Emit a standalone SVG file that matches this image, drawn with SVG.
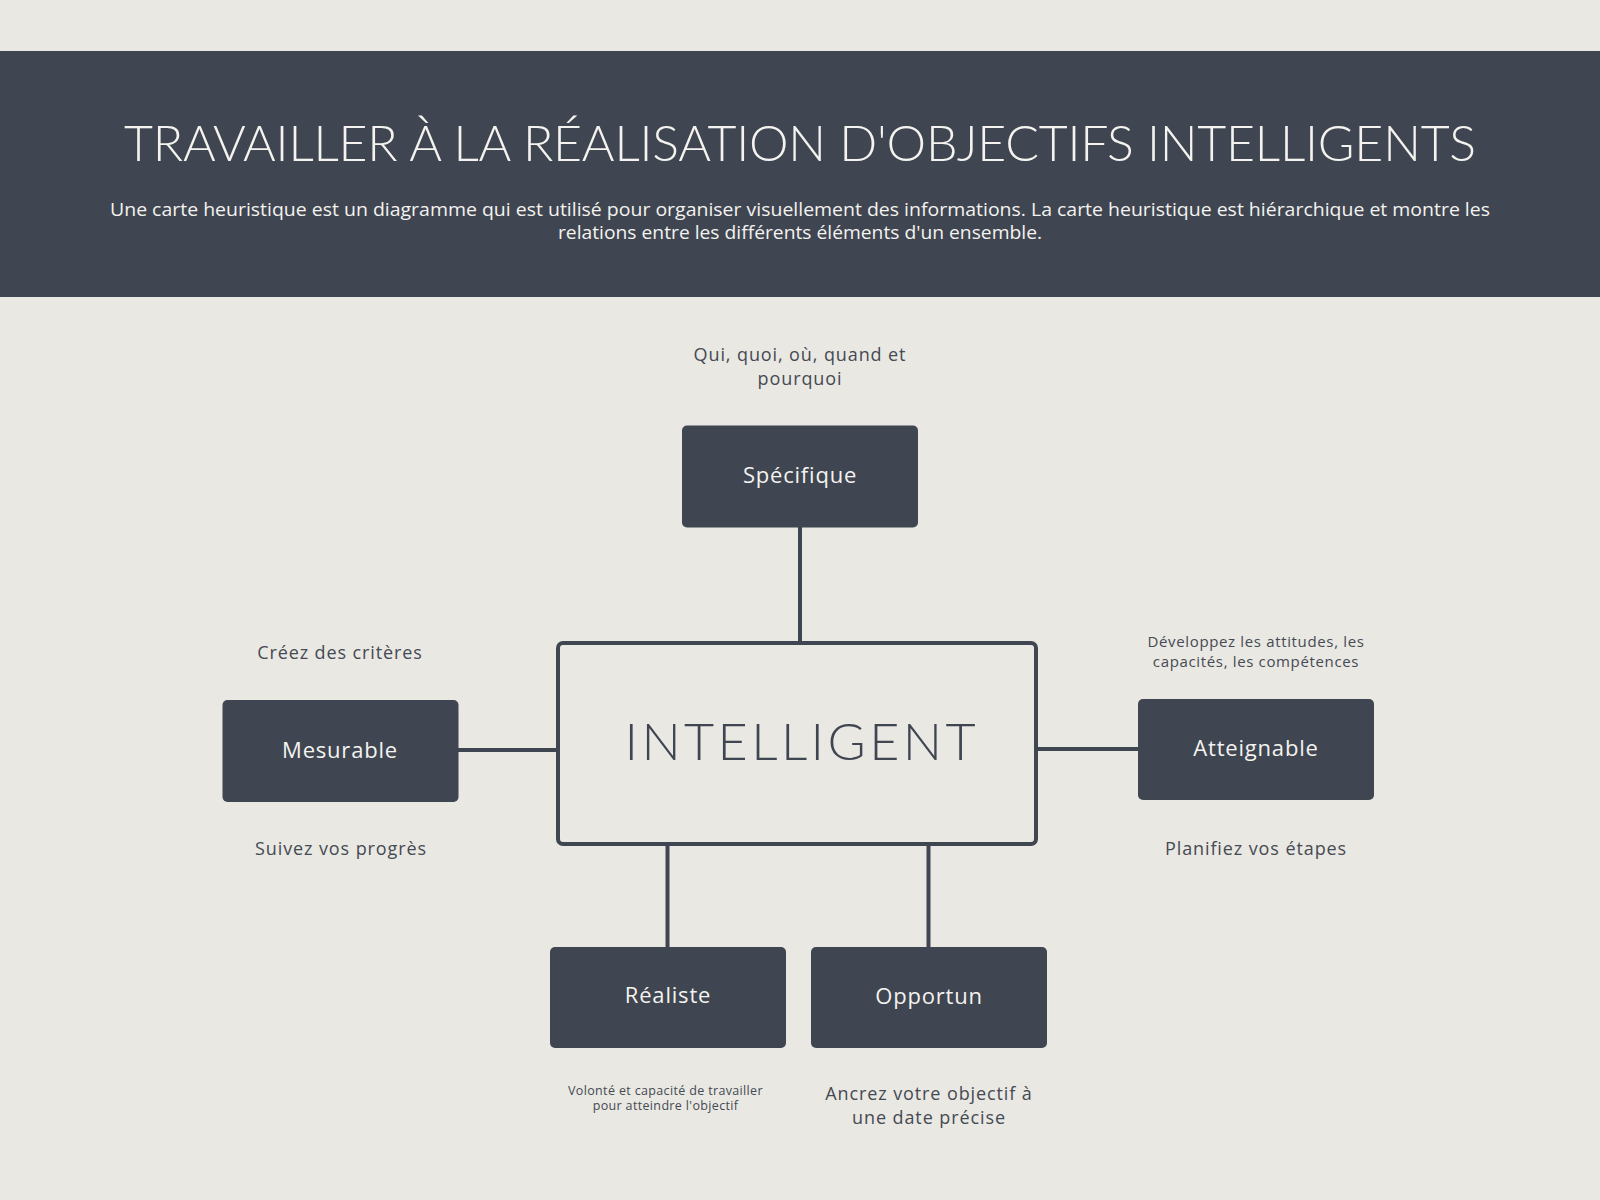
<svg xmlns="http://www.w3.org/2000/svg" width="1600" height="1200" viewBox="0 0 1600 1200">
<style>
.bg{fill:#E9E8E2}
.band{fill:#3F4551}
.node{fill:#3F4551}
.lbl{font-family:"Open Sans",Lato,"Liberation Sans",sans-serif;fill:#F4F3EF;font-size:22px;text-anchor:middle;font-variant-ligatures:none;letter-spacing:0.8px}
.note{font-family:"Open Sans",Lato,"Liberation Sans",sans-serif;fill:#454A54;font-size:18px;text-anchor:middle;font-variant-ligatures:none;letter-spacing:0.9px}
.small{font-size:15px;letter-spacing:0.65px}
.tiny{font-size:12.5px;letter-spacing:0.35px}
.conn{stroke:#3F4551;stroke-width:4;fill:none}
</style>
<rect class="bg" x="0" y="0" width="1600" height="1200"/>
<rect class="band" x="0" y="51" width="1600" height="246"/>
<text x="800" y="161" font-family="Lato,'Open Sans','Liberation Sans',sans-serif" font-weight="300" font-size="50" fill="#F4F3EF" text-anchor="middle" textLength="1352" lengthAdjust="spacing">TRAVAILLER À LA RÉALISATION D'OBJECTIFS INTELLIGENTS</text>
<text x="800" y="216" font-family="'Open Sans',Lato,'Liberation Sans',sans-serif" font-size="17.5" fill="#F4F3EF" text-anchor="middle" textLength="1380" lengthAdjust="spacingAndGlyphs" style="font-variant-ligatures:none">Une carte heuristique est un diagramme qui est utilisé pour organiser visuellement des informations. La carte heuristique est hiérarchique et montre les</text>
<text x="800" y="239" font-family="'Open Sans',Lato,'Liberation Sans',sans-serif" font-size="17.5" fill="#F4F3EF" text-anchor="middle" textLength="484" lengthAdjust="spacingAndGlyphs" style="font-variant-ligatures:none">relations entre les différents éléments d'un ensemble.</text>

<g id="connectors">
<line class="conn" x1="800" y1="527" x2="800" y2="643"/>
<line class="conn" x1="458" y1="750" x2="558" y2="750"/>
<line class="conn" x1="1036" y1="749" x2="1138" y2="749"/>
<line class="conn" x1="667.5" y1="844" x2="667.5" y2="947"/>
<line class="conn" x1="928.5" y1="844" x2="928.5" y2="947"/>
</g>

<g id="center">
<rect x="558" y="643" width="478" height="201" rx="5" fill="#E9E8E2" stroke="#3F4551" stroke-width="4"/>
<text x="800" y="760" font-family="Lato,'Open Sans','Liberation Sans',sans-serif" font-weight="300" font-size="52" fill="#3F4551" text-anchor="middle" textLength="351" lengthAdjust="spacing">INTELLIGENT</text>
</g>

<g id="specifique">
<text class="note" x="800" y="361">Qui, quoi, où, quand et</text>
<text class="note" x="800" y="385">pourquoi</text>
<rect class="node" x="682" y="425.5" width="236" height="102" rx="5"/>
<text class="lbl" x="800" y="483">Spécifique</text>
</g>

<g id="mesurable">
<text class="note" x="340" y="659">Créez des critères</text>
<rect class="node" x="222.5" y="700" width="236" height="102" rx="5"/>
<text class="lbl" x="340" y="758">Mesurable</text>
<text class="note" x="341" y="855">Suivez vos progrès</text>
</g>

<g id="atteignable">
<text class="note small" x="1256" y="647">Développez les attitudes, les</text>
<text class="note small" x="1256" y="667">capacités, les compétences</text>
<rect class="node" x="1138" y="699" width="236" height="101" rx="5"/>
<text class="lbl" x="1256" y="756">Atteignable</text>
<text class="note" x="1256" y="855">Planifiez vos étapes</text>
</g>

<g id="realiste">
<rect class="node" x="550" y="947" width="236" height="101" rx="5"/>
<text class="lbl" x="668" y="1003">Réaliste</text>
<text class="note tiny" x="665.5" y="1095">Volonté et capacité de travailler</text>
<text class="note tiny" x="665.5" y="1110">pour atteindre l'objectif</text>
</g>

<g id="opportun">
<rect class="node" x="811" y="947" width="236" height="101" rx="5"/>
<text class="lbl" x="929" y="1004">Opportun</text>
<text class="note" x="929" y="1100">Ancrez votre objectif à</text>
<text class="note" x="929" y="1123.5">une date précise</text>
</g>
</svg>
